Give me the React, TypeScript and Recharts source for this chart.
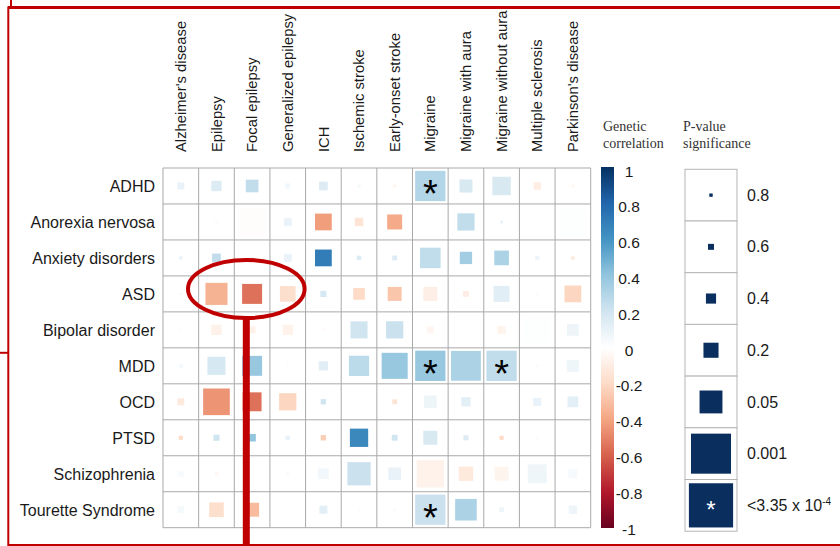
import React from 'react';
import { ScatterChart, Scatter, XAxis, YAxis, ReferenceLine } from 'recharts';

// ---------- data ----------
const columns = [
  "Alzheimer's disease", 'Epilepsy', 'Focal epilepsy', 'Generalized epilepsy', 'ICH',
  'Ischemic stroke', 'Early-onset stroke', 'Migraine', 'Migraine with aura',
  'Migraine without aura', 'Multiple sclerosis', "Parkinson's disease",
];
const rows = [
  'ADHD', 'Anorexia nervosa', 'Anxiety disorders', 'ASD', 'Bipolar disorder',
  'MDD', 'OCD', 'PTSD', 'Schizophrenia', 'Tourette Syndrome',
];

// genetic correlation (rg) and p-value per row, in column order
const rgADHD = [0.1, 0.15, 0.25, 0.06, 0.15, 0.05, -0.06, 0.3, 0.17, 0.17, -0.1, -0.05];
const pADHD = [0.4, 0.2, 0.11, 0.52, 0.28, 0.68, 0.72, 0.0001, 0.1, 0.02, 0.37, 0.76];
const rgAnorexia = [0.05, 0.05, -0.01, 0.1, -0.42, -0.15, -0.38, 0.02, 0.25, 0.1, 0, 0.01];
const pAnorexia = [0.9, 0.8, 0.001, 0.34, 0.035, 0.3, 0.06, 0.9, 0.03, 0.72, 1, 0.001];
const rgAnxiety = [0.1, 0.25, 0.1, 0.1, 0.7, 0.15, 0.15, 0.25, 0.35, 0.32, 0.08, -0.12];
const pAnxiety = [0.68, 0.28, 0.8, 0.34, 0.035, 0.57, 0.54, 0.01, 0.12, 0.065, 0.6, 0.68];
const rgASD = [0.05, -0.35, -0.55, -0.18, 0.18, -0.2, -0.28, -0.09, -0.1, 0.13, 0.03, -0.22];
const pASD = [0.8, 0.006, 0.012, 0.05, 0.45, 0.14, 0.078, 0.078, 0.47, 0.045, 0.8, 0.035];
const rgBipolar = [0.03, -0.08, -0.08, -0.07, -0.05, 0.2, 0.22, -0.05, 0, -0.06, 0.01, 0.08];
const pBipolar = [0.8, 0.2, 0.4, 0.2, 0.8, 0.032, 0.03, 0.4, 1, 0.3, 0.0016, 0.14];
const rgMDD = [0.05, 0.18, 0.38, 0.03, 0.13, 0.27, 0.38, 0.38, 0.32, 0.25, 0.03, 0.07];
const pMDD = [0.6, 0.023, 0.012, 0.8, 0.25, 0.011, 0.0016, 0.0002, 0.0004, 0.0002, 0.7, 0.13];
const rgOCD = [-0.12, -0.45, -0.55, -0.22, 0.2, 0.05, -0.15, 0.08, 0.12, 0.05, 0.1, 0.12];
const pOCD = [0.4, 0.0013, 0.017, 0.03, 0.5, 0.9, 0.54, 0.11, 0.25, 0.9, 0.32, 0.18];
const rgPTSD = [-0.2, 0.2, 0.4, 0.1, -0.25, 0.65, 0.2, 0.17, 0.15, -0.2, 0.03, 0.02];
const pPTSD = [0.6, 0.45, 0.36, 0.57, 0.5, 0.021, 0.47, 0.078, 0.52, 0.6, 0.8, 0.9];
const rgSchizophrenia = [0.03, -0.05, 0, 0.03, 0.06, 0.22, 0.1, -0.07, -0.12, -0.06, 0.07, 0.04];
const pSchizophrenia = [0.45, 0.7, 1, 0.7, 0.18, 0.004, 0.11, 0.001, 0.07, 0.078, 0.017, 0.26];
const rgTourette = [0.05, -0.18, -0.32, 0, 0.12, 0.03, -0.05, 0.22, 0.32, 0.07, 0.02, 0.08];
const pTourette = [0.4, 0.065, 0.078, 1, 0.32, 0.8, 0.8, 0.0001, 0.007, 0.52, 0.9, 0.3];

const rgRows = [rgADHD, rgAnorexia, rgAnxiety, rgASD, rgBipolar, rgMDD, rgOCD, rgPTSD, rgSchizophrenia, rgTourette];
const pRows = [pADHD, pAnorexia, pAnxiety, pASD, pBipolar, pMDD, pOCD, pPTSD, pSchizophrenia, pTourette];

const colorbarTicks = [1, 0.8, 0.6, 0.4, 0.2, 0, -0.2, -0.4, -0.6, -0.8, -1];
const legendP = [0.8, 0.6, 0.4, 0.2, 0.05, 0.001, 0.0001];
const legendPLabels = ['0.8', '0.6', '0.4', '0.2', '0.05', '0.001'];
const STAR_P = 3.35e-4;

// ---------- layout / style ----------
const W = 840;
const H = 546;
const PL = 163;
const PR = 590.7;
const PT = 168;
const PB = 527.7;
const XAXIS_H = 20;
const YAXIS_W = 20;
const CELL_W = (PR - PL) / 12;
const FONT = "'Liberation Sans', Arial, Helvetica, sans-serif";
const SERIF = "'Liberation Serif', 'Times New Roman', serif";
const RED = '#c00000';
const NAVY = '#0a2f5f';

const palette = ['#67001F', '#B2182B', '#D6604D', '#F4A582', '#FDDBC7', '#FFFFFF', '#D1E5F0', '#92C5DE', '#4393C3', '#2166AC', '#053061'];

function hexToRgb(h: string) {
  const n = parseInt(h.slice(1), 16);
  return [(n >> 16) & 255, (n >> 8) & 255, n & 255];
}
function rgColor(v: number) {
  const t = ((Math.max(-1, Math.min(1, v)) + 1) / 2) * 10;
  const i = Math.min(9, Math.floor(t));
  const f = t - i;
  const a = hexToRgb(palette[i]);
  const b = hexToRgb(palette[i + 1]);
  const c = a.map((x, k) => Math.round(x + (b[k] - x) * f));
  return `rgb(${c[0]},${c[1]},${c[2]})`;
}

// -log10(p) -> fraction of cell side
const sizeKnots: [number, number][] = [
  [0, 0], [0.097, 0.065], [0.222, 0.115], [0.398, 0.195], [0.699, 0.29],
  [1.301, 0.44], [3, 0.77], [3.475, 0.85],
];
function sideFrac(p: number) {
  const L = -Math.log10(p);
  if (L <= 0) return 0;
  if (L >= sizeKnots[sizeKnots.length - 1][0]) return sizeKnots[sizeKnots.length - 1][1];
  for (let k = 1; k < sizeKnots.length; k++) {
    const [x1, y1] = sizeKnots[k];
    const [x0, y0] = sizeKnots[k - 1];
    if (L <= x1) return y0 + ((L - x0) / (x1 - x0)) * (y1 - y0);
  }
  return 0.85;
}

const cells = rows.flatMap((r, i) =>
  columns.map((c, j) => ({ x: j, y: i, row: r, col: c, rg: rgRows[i][j], p: pRows[i][j] }))
);

const CellShape = (props: any) => {
  const { cx, cy, payload } = props;
  if (payload.p >= 1) return <g />;
  const s = sideFrac(payload.p) * CELL_W;
  return (
    <g>
      <rect x={cx - s / 2} y={cy - s / 2} width={s} height={s} fill={rgColor(payload.rg)} />
      {payload.p < STAR_P && (
        <text x={cx} y={cy + 21} textAnchor="middle" fontFamily={FONT} fontSize={38} fill="#000">
          *
        </text>
      )}
    </g>
  );
};

const ColTick = (props: any) => {
  const { x, payload } = props;
  const y = 152;
  return (
    <text
      x={x}
      y={y}
      transform={`rotate(-90 ${x} ${y})`}
      textAnchor="start"
      dy="0.35em"
      fontFamily={FONT}
      fontSize={14.8}
      fill="#1a1a1a"
    >
      {columns[payload.value]}
    </text>
  );
};

const RowTick = (props: any) => {
  const { y, payload } = props;
  return (
    <text x={155} y={y} dy="0.37em" textAnchor="end" fontFamily={FONT} fontSize={16} fill="#1a1a1a">
      {rows[payload.value]}
    </text>
  );
};

const Overlay = () => {
  const boxX = 685;
  const boxY = 169.3;
  const boxW = 52;
  const boxH = 51.7;
  return (
    <svg width={W} height={H} style={{ position: 'absolute', left: 0, top: 0, pointerEvents: 'none' }}>
      <defs>
        <linearGradient id="cbar" x1="0" y1="0" x2="0" y2="1">
          {palette.map((c, i) => (
            <stop key={i} offset={i / 10} stopColor={palette[10 - i]} />
          ))}
        </linearGradient>
      </defs>
      {/* legend titles */}
      <g fontFamily={SERIF} fontSize={14} fill="#333">
        <text x={603} y={131}>Genetic</text>
        <text x={603} y={148}>correlation</text>
        <text x={683} y={131}>P-value</text>
        <text x={683} y={148}>significance</text>
      </g>
      {/* colour bar */}
      <rect x={601} y={167} width={13} height={361} fill="url(#cbar)" />
      {colorbarTicks.map((v) => (
        <text key={v} x={629} y={350 - v * 179 + 5.6} textAnchor="middle" fontFamily={FONT} fontSize={15.5} fill="#1a1a1a">
          {String(v)}
        </text>
      ))}
      {/* p-value legend */}
      {legendP.map((p, i) => {
        const y0 = boxY + i * boxH;
        const s = sideFrac(p) * boxW;
        const cx = boxX + boxW / 2;
        const cy = y0 + boxH / 2;
        return (
          <g key={i}>
            <rect x={boxX} y={y0} width={boxW} height={boxH} fill="#fff" stroke="#b5b5b5" strokeWidth={1} />
            <rect x={cx - s / 2} y={cy - s / 2} width={s} height={s} fill={NAVY} />
            {p < STAR_P && (
              <text x={cx} y={cy + 13} textAnchor="middle" fontFamily={FONT} fontSize={24} fill="#fff">
                *
              </text>
            )}
            <text x={747} y={cy + 5.6} fontFamily={FONT} fontSize={16} fill="#1a1a1a">
              {i < legendPLabels.length ? (
                legendPLabels[i]
              ) : (
                <>
                  {'<3.35 x 10'}
                  <tspan dy={-6} fontSize={10}>-4</tspan>
                </>
              )}
            </text>
          </g>
        );
      })}
      {/* red annotations */}
      <g stroke={RED} fill="none">
        <line x1={8} y1={7.6} x2={W} y2={7.6} strokeWidth={3} />
        <line x1={11} y1={0} x2={11} y2={7} strokeWidth={2} />
        <line x1={8.3} y1={6.5} x2={8.3} y2={546} strokeWidth={2} />
        <line x1={0} y1={352.8} x2={8} y2={352.8} strokeWidth={2} />
        <line x1={8} y1={545} x2={W} y2={545} strokeWidth={2} />
        <ellipse cx={246.3} cy={289} rx={58.3} ry={29} strokeWidth={4} />
        <line x1={246.3} y1={317} x2={246.3} y2={546} strokeWidth={7} />
      </g>
    </svg>
  );
};

export default function App() {
  const xBounds = Array.from({ length: 13 }, (_, i) => i - 0.5);
  const yBounds = Array.from({ length: 11 }, (_, i) => i - 0.5);
  return (
    <div style={{ position: 'absolute', left: 0, top: 0, width: W, height: H, background: '#fff' }}>
      <ScatterChart
        width={W}
        height={H}
        margin={{ top: PT - XAXIS_H, right: W - PR, bottom: H - PB, left: PL - YAXIS_W }}
      >
        <XAxis
          type="number"
          dataKey="x"
          orientation="top"
          domain={[-0.5, 11.5]}
          ticks={columns.map((_, i) => i)}
          interval={0}
          height={XAXIS_H}
          axisLine={false}
          tickLine={false}
          tick={ColTick}
        />
        <YAxis
          type="number"
          dataKey="y"
          domain={[-0.5, 9.5]}
          reversed
          ticks={rows.map((_, i) => i)}
          interval={0}
          width={YAXIS_W}
          axisLine={false}
          tickLine={false}
          tick={RowTick}
        />
        {xBounds.map((v) => (
          <ReferenceLine key={'x' + v} x={v} stroke="#a9a9a9" strokeWidth={1} />
        ))}
        {yBounds.map((v) => (
          <ReferenceLine key={'y' + v} y={v} stroke="#a9a9a9" strokeWidth={1} />
        ))}
        <Scatter data={cells} shape={CellShape} isAnimationActive={false} />
      </ScatterChart>
      <Overlay />
    </div>
  );
}
